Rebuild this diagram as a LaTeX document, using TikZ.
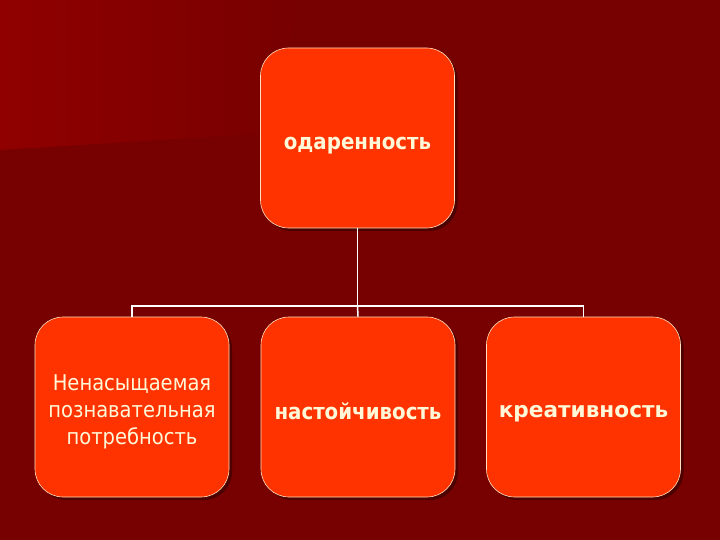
\documentclass[tikz,border=0pt]{standalone}
\usepackage{fontspec}
\setmainfont{DejaVu Sans}
\newfontfamily\verd{DejaVu Sans}
\newfontfamily\cond{DejaVu Sans Condensed}
\usetikzlibrary{shadows}
\definecolor{bgdark}{HTML}{770000}
\definecolor{bglight}{HTML}{900000}
\definecolor{boxfill}{HTML}{FF3300}
\definecolor{txt}{HTML}{FFF8D8}
\definecolor{edge}{HTML}{FFE0C0}
\begin{document}
\begin{tikzpicture}[x=1pt,y=-1pt,
  box/.style={draw=edge, line width=0.6pt, fill=boxfill, rounded corners=28pt,
    minimum width=194pt, minimum height=180pt, inner sep=0pt,
    drop shadow={shadow xshift=3pt, shadow yshift=-3pt, fill=black, opacity=0.35}},
  lbl/.style={text=txt, align=center, inner sep=0pt},
  ftop/.style={font=\cond\bfseries\fontsize{22}{26}\selectfont},
  fleft/.style={font=\cond\fontsize{21.7}{27}\selectfont},
  fmid/.style={font=\cond\bfseries\fontsize{22}{26}\selectfont},
  fright/.style={font=\verd\bfseries\fontsize{21.6}{26}\selectfont},
  conn/.style={draw=white, line width=1.5pt}]
\useasboundingbox (0,0) rectangle (720,540);
\fill[bgdark] (0,0) rectangle (720,540);
\shade[left color=bglight, right color=bgdark] (0,0) -- (300,0) -- (270,133) -- (0,150) -- cycle;
\node[box] (top) at (357.5,138) {};
\node[box] (left) at (132,407) {};
\node[box] (mid) at (358,407) {};
\node[box] (right) at (583.5,407) {};
\node[lbl,ftop] (topT) at ([shift={(0,8)}]top.center) {одаренность};
\node[lbl,fleft] (leftT) at ([shift={(0,5)}]left.center) {Ненасыщаемая\\познавательная\\потребность};
\node[lbl,fmid] (midT) at ([shift={(0,4)}]mid.center) {настойчивость};
\node[lbl,fright] (rightT) at ([shift={(0,7)}]right.center) {креативность};
\coordinate (hub) at (357.5,306);
\draw[conn] (top.south) -- (hub);
\draw[conn] (left.north) -- (left.north |- hub) -- (right.north |- hub) -- (right.north);
\draw[conn] (hub) -- (mid.north);
\end{tikzpicture}
\end{document}
